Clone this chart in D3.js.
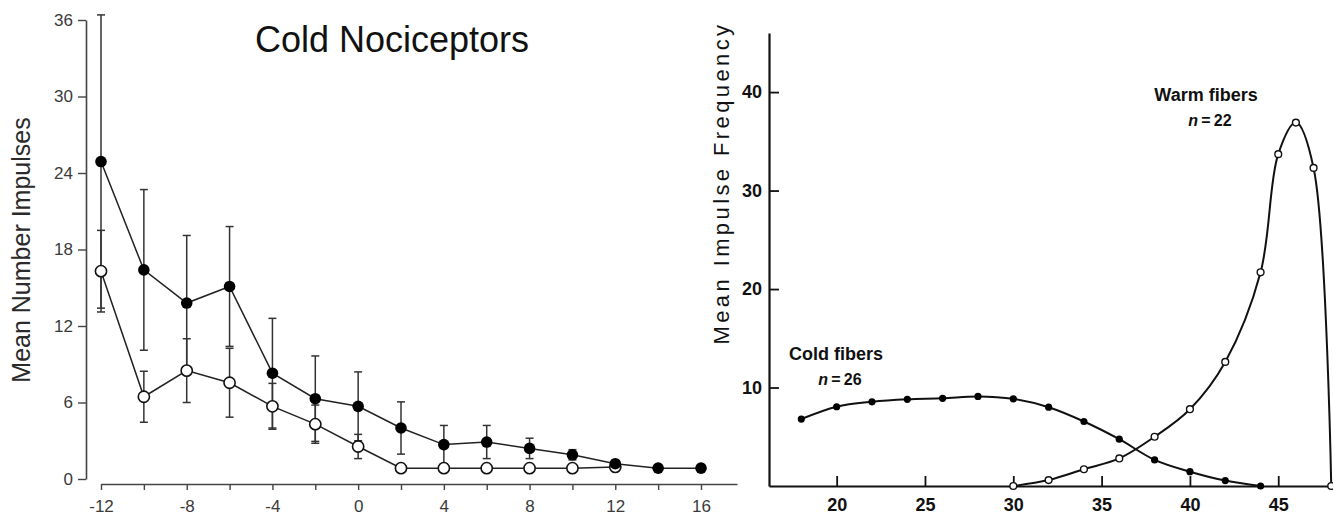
<!DOCTYPE html>
<html>
<head>
<meta charset="utf-8">
<script src="https://cdn.jsdelivr.net/npm/d3@7"></script>
<style>
	body { margin: 0; background: #fff; }
	svg { display: block; }
</style>
</head>
<body>
<div id="chart"></div>
<script>
// left panel: cold nociceptors, mean number of impulses vs temperature
const nociTemps = [-12, -10, -8, -6, -4, -2, 0, 2, 4, 6, 8, 10, 12, 14, 16];
const filledMean = [24.9, 16.4, 13.8, 15.1, 8.3, 6.3, 5.7, 4.0, 2.7, 2.9, 2.4, 1.9, 1.2, 0.85, 0.85];
const filledErr = [11.5, 6.3, 5.3, 4.7, 4.3, 3.35, 2.7, 2.05, 1.5, 1.3, 0.8, 0.4, 0, 0, 0];
const openTemps = [-12, -10, -8, -6, -4, -2, 0, 2, 4, 6, 8, 10, 12];
const openMean = [16.3, 6.45, 8.5, 7.55, 5.7, 4.3, 2.55, 0.85, 0.85, 0.85, 0.85, 0.85, 0.95];
const openErr = [3.2, 2.0, 2.5, 2.7, 1.8, 1.5, 0.95, 0, 0, 0, 0, 0, 0];
const leftYTicks = [0, 6, 12, 18, 24, 30, 36];
const leftXTicks = [-12, -10, -8, -6, -4, -2, 0, 2, 4, 6, 8, 10, 12, 14, 16];

// right panel: cold and warm fibers, mean impulse frequency vs temperature
const coldTemps = [18, 20, 22, 24, 26, 28, 30, 32, 34, 36, 38, 40, 42, 44];
const coldFreq = [6.8, 8.05, 8.55, 8.8, 8.9, 9.1, 8.85, 8.0, 6.55, 4.75, 2.65, 1.45, 0.55, 0];
const warmTemps = [30, 32, 34, 36, 38, 40, 42, 44, 45, 46, 47, 48];
const warmFreq = [0, 0.6, 1.7, 2.8, 5.0, 7.8, 12.6, 21.7, 33.7, 36.9, 32.3, 0];
const rightYTicks = [10, 20, 30, 40];
const rightXTicks = [20, 25, 30, 35, 40, 45];

const width = 1333;
const height = 517;

const svg = d3.select('#chart').append('svg')
	.attr('width', width)
	.attr('height', height);

/* ---------- left panel ---------- */
const xL = d3.scaleLinear().domain([-12, 17.68]).range([101, 737]);
const yL = d3.scaleLinear().domain([0, 36]).range([479, 20]);

const leftFont = '"Liberation Sans", Arial, sans-serif';

const yAxisL = svg.append('g')
	.attr('transform', 'translate(86,0)')
	.call(d3.axisLeft(yL).tickValues(leftYTicks).tickSize(8).tickSizeOuter(0).tickPadding(5));
const xAxisL = svg.append('g')
	.attr('transform', 'translate(0,484)')
	.call(d3.axisBottom(xL).tickValues(leftXTicks).tickSize(6).tickSizeOuter(0).tickPadding(10)
		.tickFormat((d)=>d % 4 == 0 ? d : ''));

[yAxisL, xAxisL].forEach((ax)=>{
	ax.select('.domain').attr('stroke', '#444').attr('stroke-width', 1.6);
	ax.selectAll('.tick line').attr('stroke', '#444').attr('stroke-width', 1.4);
	ax.selectAll('.tick text')
		.attr('fill', '#3a3a3a')
		.style('font-family', leftFont)
		.style('font-size', '17px');
});

svg.append('text')
	.attr('transform', 'translate(30,250) rotate(-90)')
	.attr('text-anchor', 'middle')
	.style('font-family', leftFont)
	.style('font-size', '25px')
	.attr('fill', '#2a2a2a')
	.text('Mean Number Impulses');

svg.append('text')
	.attr('x', 392)
	.attr('y', 52)
	.attr('text-anchor', 'middle')
	.style('font-family', leftFont)
	.style('font-size', '36px')
	.attr('fill', '#111')
	.text('Cold Nociceptors');

const filled = nociTemps.map((t, i)=>({t: t, m: filledMean[i], e: filledErr[i]}));
const open = openTemps.map((t, i)=>({t: t, m: openMean[i], e: openErr[i]}));

function errorBars(data) {
	const g = svg.append('g').attr('stroke', '#333').attr('stroke-width', 1.5);
	const bars = data.filter((d)=>d.e > 0);
	g.selectAll('line.bar').data(bars).enter().append('line')
		.attr('x1', (d)=>xL(d.t)).attr('x2', (d)=>xL(d.t))
		.attr('y1', (d)=>yL(d.m - d.e)).attr('y2', (d)=>yL(d.m + d.e));
	g.selectAll('line.top').data(bars).enter().append('line')
		.attr('x1', (d)=>xL(d.t) - 4).attr('x2', (d)=>xL(d.t) + 4)
		.attr('y1', (d)=>yL(d.m + d.e)).attr('y2', (d)=>yL(d.m + d.e));
	g.selectAll('line.bottom').data(bars).enter().append('line')
		.attr('x1', (d)=>xL(d.t) - 4).attr('x2', (d)=>xL(d.t) + 4)
		.attr('y1', (d)=>yL(d.m - d.e)).attr('y2', (d)=>yL(d.m - d.e));
}
errorBars(filled);
errorBars(open);

const lineL = d3.line().x((d)=>xL(d.t)).y((d)=>yL(d.m));
svg.append('path').datum(filled).attr('d', lineL)
	.attr('fill', 'none').attr('stroke', '#222').attr('stroke-width', 1.5);
svg.append('path').datum(open).attr('d', lineL)
	.attr('fill', 'none').attr('stroke', '#222').attr('stroke-width', 1.5);

svg.append('g').selectAll('circle').data(open).enter().append('circle')
	.attr('cx', (d)=>xL(d.t)).attr('cy', (d)=>yL(d.m)).attr('r', 5.6)
	.attr('fill', '#fff').attr('stroke', '#111').attr('stroke-width', 1.6);
svg.append('g').selectAll('circle').data(filled).enter().append('circle')
	.attr('cx', (d)=>xL(d.t)).attr('cy', (d)=>yL(d.m)).attr('r', 5.8)
	.attr('fill', '#000');

/* ---------- right panel ---------- */
const xR = d3.scaleLinear().domain([16.17, 48.1]).range([769, 1333]);
const yR = d3.scaleLinear().domain([0, 46]).range([486, 33]);

const rightFont = '"Liberation Sans Narrow", "Liberation Sans", Arial, sans-serif';

const yAxisR = svg.append('g')
	.attr('transform', 'translate(769,0)')
	.call(d3.axisLeft(yR).tickValues(rightYTicks).tickSize(-10).tickSizeOuter(0).tickPadding(7));
const xAxisR = svg.append('g')
	.attr('transform', 'translate(0,486)')
	.call(d3.axisBottom(xR).tickValues(rightXTicks).tickSize(-10).tickSizeOuter(0).tickPadding(12));

[yAxisR, xAxisR].forEach((ax)=>{
	ax.select('.domain').attr('stroke', '#111').attr('stroke-width', 2.2);
	ax.selectAll('.tick line').attr('stroke', '#111').attr('stroke-width', 1.8);
	ax.selectAll('.tick text')
		.attr('fill', '#111')
		.style('font-family', rightFont)
		.style('font-weight', 'bold')
		.style('font-size', '18px');
});

svg.append('text')
	.attr('transform', 'translate(729,183) rotate(-90)')
	.attr('text-anchor', 'middle')
	.style('font-family', leftFont)
	.style('font-size', '22px')
	.style('letter-spacing', '3.4px')
	.attr('fill', '#111')
	.text('Mean Impulse Frequency');

const lineR = d3.line().curve(d3.curveCatmullRom.alpha(0.5))
	.x((d)=>xR(d[0])).y((d)=>yR(d[1]));
const cold = coldTemps.map((t, i)=>[t, coldFreq[i]]);
const warm = warmTemps.map((t, i)=>[t, warmFreq[i]]);

svg.append('path').datum(cold).attr('d', lineR)
	.attr('fill', 'none').attr('stroke', '#111').attr('stroke-width', 2);
svg.append('path').datum(warm).attr('d', lineR)
	.attr('fill', 'none').attr('stroke', '#111').attr('stroke-width', 2);

svg.append('g').selectAll('circle').data(cold).enter().append('circle')
	.attr('cx', (d)=>xR(d[0])).attr('cy', (d)=>yR(d[1])).attr('r', 3.6)
	.attr('fill', '#000');
svg.append('g').selectAll('circle').data(warm).enter().append('circle')
	.attr('cx', (d)=>xR(d[0])).attr('cy', (d)=>yR(d[1])).attr('r', 3.4)
	.attr('fill', '#fff').attr('stroke', '#111').attr('stroke-width', 1.4);

// series labels
function seriesLabel(x, y, name, n) {
	const g = svg.append('g').attr('text-anchor', 'middle')
		.style('font-family', leftFont).attr('fill', '#111');
	g.append('text').attr('x', x).attr('y', y)
		.style('font-size', '18px').style('font-weight', 'bold')
		.text(name);
	const t = g.append('text').attr('x', x + 4).attr('y', y + 25)
		.style('font-size', '16px').style('font-weight', 'bold');
	t.append('tspan').style('font-style', 'italic').text('n');
	t.append('tspan').text('\u2009=\u2009' + n);
}
seriesLabel(836, 360, 'Cold fibers', 26);
seriesLabel(1206, 101, 'Warm fibers', 22);
</script>
</body>
</html>
